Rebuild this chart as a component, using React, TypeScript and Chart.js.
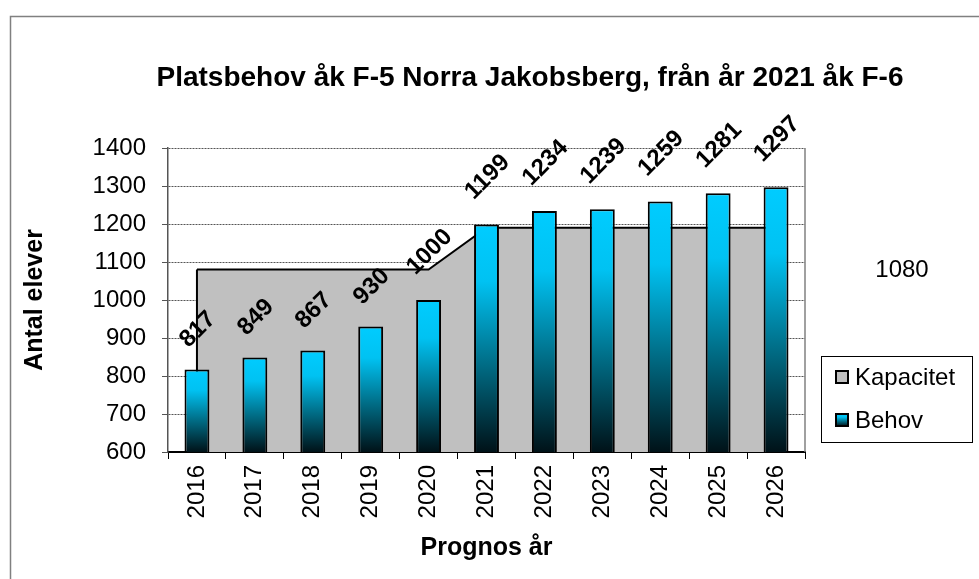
import React, { useEffect, useRef } from 'react';
import { Chart, registerables } from 'chart.js';

Chart.register(...registerables);

const CHART_TITLE = 'Platsbehov åk F-5 Norra Jakobsberg, från år 2021 åk F-6';
const YEARS = ['2016', '2017', '2018', '2019', '2020', '2021', '2022', '2023', '2024', '2025', '2026'];
const BEHOV = [817, 849, 867, 930, 1000, 1199, 1234, 1239, 1259, 1281, 1297];
const KAPACITET = [1080, 1080, 1080, 1080, 1080, 1190, 1190, 1190, 1190, 1190, 1190];
const SERIES_NAMES = ['Kapacitet', 'Behov'];
const Y_MIN = 600;
const Y_MAX = 1400;
const Y_STEP = 100;
const Y_TITLE = 'Antal elever';
const X_TITLE = 'Prognos år';
const STRAY_LABEL = '1080';

const FONT = 'Arial, "Liberation Sans", Helvetica, sans-serif';

function barGradient(ctx: CanvasRenderingContext2D, top: number, bottom: number) {
  const g = ctx.createLinearGradient(0, top, 0, bottom);
  g.addColorStop(0, '#00CCFF');
  g.addColorStop(0.25, '#00C2F2');
  g.addColorStop(0.6, '#00708A');
  g.addColorStop(1, '#001218');
  return g;
}

const decorPlugin = {
  id: 'decor',
  beforeDraw(chart: any) {
    const ctx = chart.ctx as CanvasRenderingContext2D;
    ctx.save();
    ctx.fillStyle = '#ffffff';
    ctx.fillRect(0, 0, chart.width, chart.height);
    ctx.strokeStyle = '#808080';
    ctx.lineWidth = 1.5;
    ctx.beginPath();
    ctx.moveTo(10.5, chart.height + 2);
    ctx.lineTo(10.5, 16.5);
    ctx.lineTo(chart.width + 2, 16.5);
    ctx.stroke();
    ctx.fillStyle = '#000';
    ctx.font = `bold 28px ${FONT}`;
    ctx.textAlign = 'center';
    ctx.textBaseline = 'middle';
    ctx.fillText(CHART_TITLE, 530, 78);
    ctx.restore();
  },
  beforeDatasetDraw(chart: any, args: any) {
    if (args.index !== 1) return;
    const ctx = chart.ctx as CanvasRenderingContext2D;
    const meta = chart.getDatasetMeta(0);
    const pts = meta.data;
    if (!pts.length) return;
    const bottom = chart.chartArea.bottom;
    ctx.save();
    ctx.strokeStyle = '#000';
    ctx.lineWidth = 2;
    ctx.beginPath();
    ctx.moveTo(pts[0].x, bottom);
    ctx.lineTo(pts[0].x, pts[0].y);
    ctx.moveTo(pts[pts.length - 1].x, bottom);
    ctx.lineTo(pts[pts.length - 1].x, pts[pts.length - 1].y);
    ctx.stroke();
    ctx.restore();
  },
  afterDraw(chart: any) {
    const ctx = chart.ctx as CanvasRenderingContext2D;
    const area = chart.chartArea;
    ctx.save();
    ctx.strokeStyle = '#808080';
    ctx.lineWidth = 1.5;
    ctx.beginPath();
    ctx.moveTo(area.right, area.top);
    ctx.lineTo(area.right, area.bottom);
    ctx.stroke();

    const meta = chart.getDatasetMeta(1);
    ctx.fillStyle = '#000';
    ctx.font = `bold 24px ${FONT}`;
    ctx.textAlign = 'center';
    ctx.textBaseline = 'middle';
    meta.data.forEach((bar: any, i: number) => {
      const text = String(BEHOV[i]);
      const w = ctx.measureText(text).width;
      const cx = bar.x + 1;
      const cy = bar.y - (16 + 0.6 * w);
      ctx.save();
      ctx.translate(cx, cy);
      ctx.rotate(-Math.PI / 4);
      ctx.fillText(text, 0, 0);
      ctx.restore();
    });

    ctx.font = `24px ${FONT}`;
    ctx.fillText(STRAY_LABEL, 902, 270);

    ctx.strokeStyle = '#000';
    ctx.lineWidth = 1;
    ctx.strokeRect(821.5, 356.5, 151, 86);
    const items = [
      { name: SERIES_NAMES[0], y: 377 },
      { name: SERIES_NAMES[1], y: 420 },
    ];
    items.forEach((it, i) => {
      const x0 = 836, s = 12;
      const y0 = it.y - s / 2;
      ctx.fillStyle = i === 0 ? '#C0C0C0' : barGradient(ctx, y0, y0 + s);
      ctx.fillRect(x0, y0, s, s);
      ctx.strokeStyle = '#000';
      ctx.lineWidth = 2;
      ctx.strokeRect(x0, y0, s, s);
      ctx.fillStyle = '#000';
      ctx.font = `24px ${FONT}`;
      ctx.textAlign = 'left';
      ctx.textBaseline = 'middle';
      ctx.fillText(it.name, 855, it.y + 1);
    });
    ctx.restore();
  },
};

export default function App() {
  const ref = useRef<HTMLCanvasElement>(null);
  useEffect(() => {
    const canvas = ref.current;
    if (!canvas) return;
    const chart = new Chart(canvas, {
      type: 'bar',
      data: {
        labels: YEARS,
        datasets: [
          {
            type: 'line',
            label: SERIES_NAMES[0],
            data: KAPACITET,
            backgroundColor: '#C0C0C0',
            borderColor: '#000',
            borderWidth: 2,
            fill: 'start',
            pointRadius: 0,
            tension: 0,
            order: 2,
          } as any,
          {
            type: 'bar',
            label: SERIES_NAMES[1],
            data: BEHOV,
            backgroundColor: (c: any) => {
              const ch = c.chart;
              if (c.type !== 'data' || !ch.chartArea || !ch.scales?.y) return '#00CCFF';
              const top = ch.scales.y.getPixelForValue(c.raw);
              const bottom = ch.scales.y.getPixelForValue(Y_MIN);
              return barGradient(ch.ctx, top, bottom);
            },
            borderColor: '#000',
            borderWidth: 2,
            borderSkipped: false,
            categoryPercentage: 1,
            barPercentage: 0.43,
            order: 1,
          } as any,
        ],
      },
      options: {
        responsive: false,
        animation: false,
        devicePixelRatio: 1,
        layout: { padding: { left: 10, right: 174, top: 148, bottom: 0 } },
        plugins: {
          legend: { display: false },
          title: { display: false },
          tooltip: { enabled: false },
        },
        scales: {
          x: {
            offset: true,
            grid: {
              display: true,
              offset: true,
              drawOnChartArea: false,
              drawTicks: true,
              tickLength: 7,
              color: '#000',
            },
            border: { display: true, color: '#000', width: 2 },
            ticks: {
              color: '#000',
              font: { family: FONT, size: 24 },
              minRotation: 90,
              maxRotation: 90,
              padding: 6,
            },
            title: {
              display: true,
              text: X_TITLE,
              color: '#000',
              font: { family: FONT, size: 25, weight: 'bold' },
              padding: { top: 0, bottom: 16 },
            },
            afterFit: (s: any) => {
              s.height = 127;
            },
          },
          y: {
            min: Y_MIN,
            max: Y_MAX,
            ticks: {
              stepSize: Y_STEP,
              color: '#000',
              font: { family: FONT, size: 24 },
              padding: 16,
              callback: (v: any) => String(v),
            },
            grid: {
              color: '#555',
              lineWidth: 1,
              drawTicks: true,
              tickLength: 6,
              tickColor: '#555',
              tickBorderDash: [],
            } as any,
            border: { display: true, color: '#555', width: 1.5, dash: [2, 1] },
            title: {
              display: true,
              text: Y_TITLE,
              color: '#000',
              font: { family: FONT, size: 25, weight: 'bold' },
              padding: { top: 10, bottom: 0 },
            },
            afterFit: (s: any) => {
              s.width = 158;
            },
          },
        },
      } as any,
      plugins: [decorPlugin],
    });
    return () => chart.destroy();
  }, []);
  return (
    <div style={{ position: 'absolute', left: 0, top: 0, width: 979, height: 579, background: '#fff' }}>
      <canvas ref={ref} width={979} height={579} style={{ width: 979, height: 579, display: 'block' }} />
    </div>
  );
}
